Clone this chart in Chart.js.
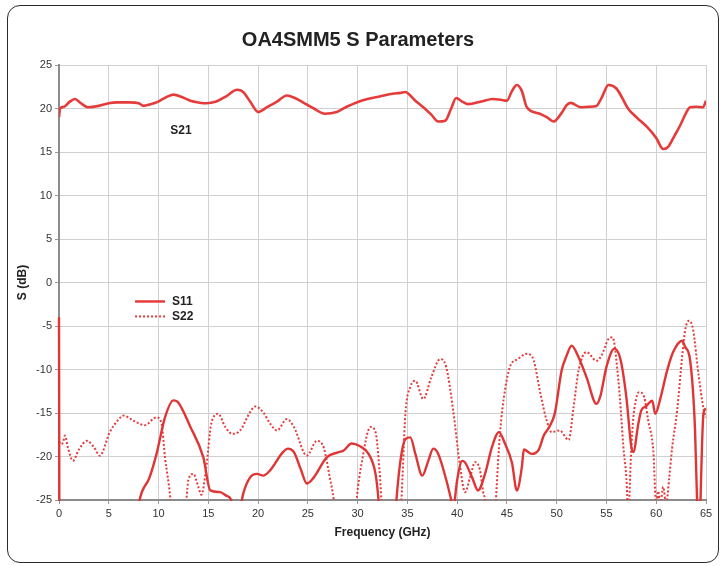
<!DOCTYPE html>
<html>
<head>
<meta charset="utf-8">
<script src="https://cdn.jsdelivr.net/npm/chart.js@4.4.0/dist/chart.umd.min.js"></script>
<style>
html,body{margin:0;padding:0;background:#fff;}
#wrap{position:relative;width:725px;height:566px;overflow:hidden;}
#frame{position:absolute;left:7px;top:5px;width:712px;height:558px;border:1.5px solid #2a2a2a;border-radius:13px;box-sizing:border-box;pointer-events:none;}
canvas{position:absolute;left:0;top:0;}
</style>
</head>
<body>
<div id="wrap"><canvas id="c" width="725" height="566"></canvas><div id="frame"></div></div>
<script>
// ---- data (frequency in GHz, S in dB) ----
const s21Freq = [0,0.1,0.5,1.0,1.6,2.2,2.9,4.0,5.0,5.8,7.1,8.0,8.5,9.2,9.8,10.6,11.5,12.4,13.2,14.0,14.8,15.8,16.8,17.9,18.5,19.2,20.0,20.9,21.9,22.9,23.7,24.5,25.6,26.7,27.9,28.9,29.9,31.0,32.3,33.5,34.3,34.8,35.1,35.8,36.6,37.4,38.1,38.8,39.4,39.9,40.5,41.1,42.4,43.6,44.4,45.0,45.5,46.0,46.5,47.0,48.3,49.0,49.7,50.5,51.0,51.4,52.4,53.2,54.0,54.5,55.2,56.0,57.2,58.1,59.1,60.0,60.7,61.2,61.8,62.4,63.0,63.4,64.0,64.7,65];
const s21Db   = [19.0,20.0,20.2,20.7,21.1,20.6,20.15,20.3,20.6,20.7,20.7,20.6,20.3,20.5,20.7,21.2,21.6,21.3,20.9,20.7,20.6,20.8,21.4,22.15,21.9,20.8,19.6,20.15,20.8,21.5,21.2,20.7,20.0,19.4,19.6,20.2,20.7,21.1,21.4,21.7,21.8,21.9,21.7,20.9,20.15,19.3,18.5,18.6,20.0,21.2,20.8,20.5,20.8,21.1,21.0,20.9,22.0,22.7,22.0,20.15,19.4,19.0,18.5,19.5,20.4,20.65,20.15,20.2,20.3,21.2,22.7,22.3,19.95,18.9,17.85,16.6,15.35,15.6,16.8,18.05,19.5,20.15,20.2,20.15,20.9];

const s11Freq = [0,0.05,7.5,8.1,9.1,9.8,10.65,11.5,11.9,13.2,14.5,15.2,16.2,16.8,17.3,17.6,18.0,18.5,19.2,19.9,20.5,21.2,22.5,23.0,23.6,24.3,24.9,25.6,26.9,28.1,28.6,29.4,30.2,31.1,31.8,32.1,32.4,33.6,33.9,34.3,34.8,35.3,35.8,36.5,37.1,37.6,38.1,39.0,39.4,39.6,40.0,40.5,40.8,41.5,42.1,42.8,43.5,44.2,44.8,45.5,46.0,46.5,46.7,47.5,48.2,48.7,49.2,49.8,50.5,51.0,51.5,52.2,53.0,54.0,54.4,55.0,55.8,56.4,57.0,57.5,57.7,58.2,58.5,59.0,59.6,59.9,60.4,61.1,61.7,62.6,62.9,63.4,63.9,64.1,64.2,64.35,64.45,64.75,65];
const s11Db   = [-4,-30,-30,-25,-22.4,-19.7,-15.5,-13.55,-13.7,-16.6,-20.1,-23.9,-24.1,-24.5,-25,-27,-27,-24.3,-22.4,-22.0,-22.2,-21.6,-19.5,-19.1,-19.5,-21.5,-23.1,-22.4,-20.1,-19.5,-19.3,-18.5,-18.8,-19.7,-22.0,-25,-30,-30,-25,-20.5,-18.0,-17.8,-19.7,-22.2,-20.5,-19.1,-19.7,-23.1,-25,-26,-22.7,-20.5,-20.7,-22.4,-23.9,-22.0,-18.9,-17.2,-18.5,-20.7,-23.9,-21.2,-19.2,-19.7,-19.2,-17.6,-16.7,-15.1,-10.1,-8.4,-7.25,-8.6,-10.9,-13.95,-13.0,-9.7,-7.6,-8.8,-13.2,-18.9,-19.5,-16.25,-14.7,-14.2,-13.6,-15.1,-13.4,-10.1,-8.0,-6.7,-7.4,-8.9,-17,-25,-30,-30,-25,-15,-14.5];

const s22Freq = [0,0.2,0.4,0.6,0.9,1.4,2.0,2.8,3.5,4.1,5.1,5.8,6.5,7.5,8.6,9.8,10.3,10.65,11.2,11.5,12.5,12.8,13.0,13.5,14.0,14.3,14.8,15.3,16.0,16.7,17.4,18.2,19.2,19.7,20.5,21.2,21.9,22.9,23.6,24.9,25.9,26.6,27.2,27.6,28.0,29.6,29.9,30.4,31.3,31.8,32.2,32.4,32.8,34.0,34.4,34.8,35.3,35.8,36.6,37.4,38.3,38.9,39.6,40.3,40.8,41.3,41.8,42.3,42.6,42.9,43.2,43.7,43.9,44.3,44.8,45.3,46.1,47.0,47.7,48.3,49.0,49.5,50.3,51.2,51.7,52.2,53.0,54.0,54.5,55.2,55.6,56.2,56.7,57.1,57.2,57.3,57.6,58.0,58.3,58.8,59.2,59.7,60.0,60.2,60.4,60.7,61.0,61.3,61.6,62.1,62.6,62.9,63.3,63.7,64.25,64.75,65];
const s22Db   = [-18.3,-18.6,-18.4,-17.6,-19.0,-20.5,-19.2,-18.2,-18.9,-19.9,-17.2,-16.0,-15.3,-15.9,-16.4,-15.5,-16.2,-20.1,-25,-30,-30,-25,-22.7,-22.0,-23.5,-24.4,-21.2,-16.2,-15.1,-16.6,-17.4,-17.0,-14.9,-14.25,-14.9,-16.2,-17.0,-15.7,-16.6,-19.9,-18.2,-19.0,-22.4,-25,-30,-30,-25,-20.8,-16.6,-17.2,-21.6,-25,-30,-30,-25,-15.1,-12.0,-11.3,-13.4,-10.9,-8.8,-9.7,-14.7,-21.2,-24.1,-22.4,-20.65,-21.6,-24,-25.5,-30,-30,-25,-17.4,-12.4,-9.7,-8.8,-8.2,-9.0,-12.4,-15.9,-17.2,-17.0,-18.1,-14.3,-10.1,-8.0,-9.0,-8.4,-6.5,-6.3,-11.3,-18.9,-25,-30,-25,-17,-13.3,-12.6,-13.2,-15.9,-19.3,-25.5,-24,-25.5,-23.5,-25.5,-22.5,-19,-14.7,-8.6,-5.5,-4.4,-5.4,-10.6,-14.5,-15.5];

const xTicksStep = 5, xMin = 0, xMax = 65;
const yTicksStep = 5, yMin = -25, yMax = 25;

const toPoints = (xs, ys) => xs.map((f, i) => ({x: f, y: ys[i]}));

const RED = '#e63b3b';
const FONT = "Arial, 'Liberation Sans', Helvetica, sans-serif";

const labelPlugin = {
  id: 'labels',
  afterDatasetsDraw(chart) {
    const {ctx, scales: {x, y}} = chart;
    ctx.save();
    ctx.font = 'bold 12px ' + FONT;
    ctx.fillStyle = '#222';
    ctx.textBaseline = 'middle';
    // S21 annotation
    ctx.textAlign = 'center';
    ctx.fillText('S21', x.getPixelForValue(12.26), y.getPixelForValue(17.47));
    // legend
    ctx.textAlign = 'left';
    const lx0 = x.getPixelForValue(7.64), lx1 = x.getPixelForValue(10.65), tx = x.getPixelForValue(11.36);
    const y1 = y.getPixelForValue(-2.18), y2 = y.getPixelForValue(-3.9);
    ctx.strokeStyle = RED; ctx.lineWidth = 2.5;
    ctx.beginPath(); ctx.moveTo(lx0, y1); ctx.lineTo(lx1, y1); ctx.stroke();
    ctx.lineWidth = 2;
    ctx.setLineDash([2, 2]);
    ctx.beginPath(); ctx.moveTo(lx0, y2); ctx.lineTo(lx1, y2); ctx.stroke();
    ctx.setLineDash([]);
    ctx.fillText('S11', tx, y1);
    ctx.fillText('S22', tx, y2);
    ctx.restore();
  }
};

const lineStyle = {pointRadius: 0, cubicInterpolationMode: 'monotone', fill: false};

new Chart(document.getElementById('c'), {
  type: 'line',
  data: {
    datasets: [
      {label: 'S21', data: toPoints(s21Freq, s21Db), borderColor: RED, borderWidth: 2.6, ...lineStyle},
      {label: 'S11', data: toPoints(s11Freq, s11Db), borderColor: '#e03535', borderWidth: 2.4, ...lineStyle,
       clip: {left: 2, top: 1, right: 1, bottom: 1}},
      {label: 'S22', data: toPoints(s22Freq, s22Db), borderColor: RED, borderWidth: 2, borderDash: [2, 2], ...lineStyle}
    ]
  },
  options: {
    responsive: false,
    animation: false,
    devicePixelRatio: 1,
    layout: {padding: {left: 10, right: 19, top: 0, bottom: 16}},
    plugins: {
      legend: {display: false},
      tooltip: {enabled: false},
      title: {
        display: true, text: 'OA4SMM5 S Parameters', color: '#222',
        font: {family: FONT, size: 20, weight: 'bold'},
        padding: {top: 28, bottom: 13}
      }
    },
    scales: {
      x: {
        type: 'linear', min: xMin, max: xMax,
        ticks: {stepSize: xTicksStep, color: '#333', font: {family: FONT, size: 11}, padding: 3, maxRotation: 0},
        grid: {color: '#d0d0d0', lineWidth: 1, tickLength: 4, tickColor: '#999'},
        border: {color: '#8c8c8c', width: 2},
        title: {display: true, text: 'Frequency (GHz)', color: '#222', font: {family: FONT, size: 12, weight: 'bold'}, padding: {top: 0, bottom: 10}},
        afterFit: (s) => { s.height = 50; }
      },
      y: {
        type: 'linear', min: yMin, max: yMax,
        ticks: {stepSize: yTicksStep, color: '#333', font: {family: FONT, size: 11}, padding: 3},
        grid: {color: '#d0d0d0', lineWidth: 1, tickLength: 4, tickColor: '#999'},
        border: {color: '#8c8c8c', width: 2},
        title: {display: true, text: 'S (dB)', color: '#222', font: {family: FONT, size: 12, weight: 'bold'}, padding: {top: 5, bottom: 0}},
        afterFit: (s) => { s.width = 49; }
      }
    }
  },
  plugins: [labelPlugin]
});
</script>
</body>
</html>
